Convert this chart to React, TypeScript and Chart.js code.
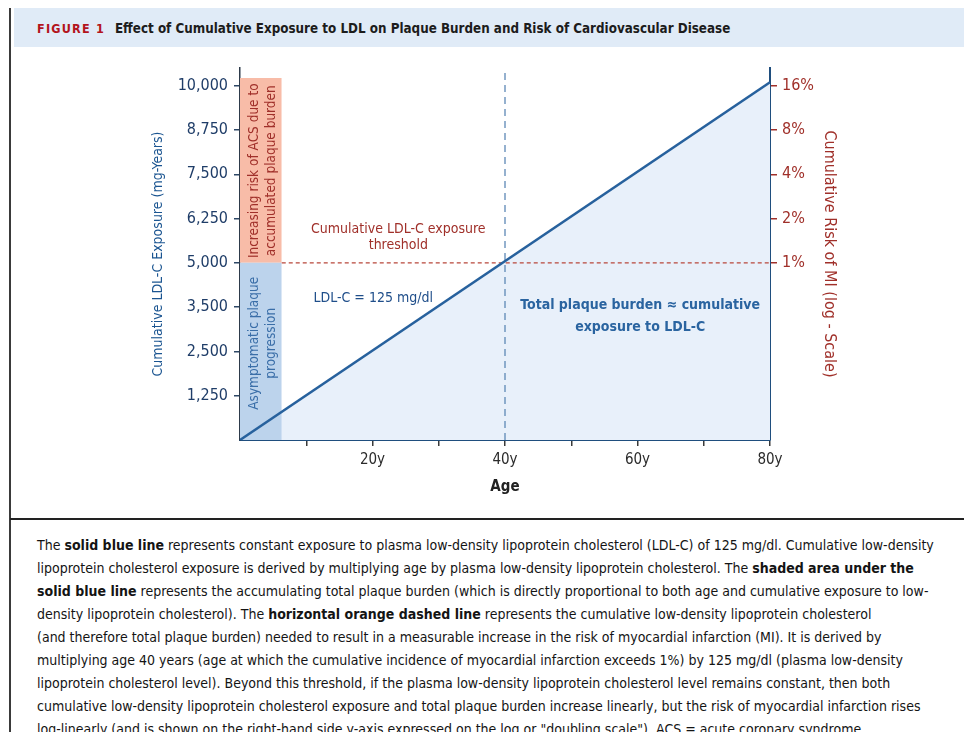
import React, { useEffect, useRef } from "react";
import { Chart, registerables } from "chart.js";

Chart.register(...registerables);

// ---------------- data ----------------
const ages = [0, 80];
const ldlExposure = [0, 10100];
const thresholdExposure = 5000;
const thresholdAge = 40;
const barAgeEnd = 6.3;
const barTopExposure = 10220;
const yMax = 10500;
const yTickValues = [1250, 2500, 3750, 5000, 6250, 7500, 8750, 10000];
const yTickLabels = ["1,250", "2,500", "3,500", "5,000", "6,250", "7,500", "8,750", "10,000"];
const xTickValues = [10, 20, 30, 40, 50, 60, 70, 80];
const xTickLabels = ["", "20y", "", "40y", "", "60y", "", "80y"];
const riskTicks = [1, 2, 4, 8, 16];
const riskTickLabels = ["1%", "2%", "4%", "8%", "16%"];
const exposurePerDoubling = 1250;

const captionLines: Array<Array<[string, boolean]>> = [
  [["The ", false], ["solid blue line", true], [" represents constant exposure to plasma low-density lipoprotein cholesterol (LDL-C) of 125 mg/dl. Cumulative low-density", false]],
  [["lipoprotein cholesterol exposure is derived by multiplying age by plasma low-density lipoprotein cholesterol. The ", false], ["shaded area under the", true]],
  [["solid blue line", true], [" represents the accumulating total plaque burden (which is directly proportional to both age and cumulative exposure to low-", false]],
  [["density lipoprotein cholesterol). The ", false], ["horizontal orange dashed line", true], [" represents the cumulative low-density lipoprotein cholesterol", false]],
  [["(and therefore total plaque burden) needed to result in a measurable increase in the risk of myocardial infarction (MI). It is derived by", false]],
  [["multiplying age 40 years (age at which the cumulative incidence of myocardial infarction exceeds 1%) by 125 mg/dl (plasma low-density", false]],
  [["lipoprotein cholesterol level). Beyond this threshold, if the plasma low-density lipoprotein cholesterol level remains constant, then both", false]],
  [["cumulative low-density lipoprotein cholesterol exposure and total plaque burden increase linearly, but the risk of myocardial infarction rises", false]],
  [["log-linearly (and is shown on the right-hand side y-axis expressed on the log or \"doubling scale\"). ACS = acute coronary syndrome.", false]],
];

const FONT = '"Liberation Sans Narrow", "DejaVu Sans Condensed", "Open Sans", sans-serif';
const NAVY = "#1f4e7e";
const LINE_BLUE = "#27619d";
const DARK_RED = "#a0302a";
const TEXT_BLUE = "#2a64a0";

const riskAt = (v: number) => Math.pow(2, (v - thresholdExposure) / exposurePerDoubling);

const annotationPlugin = {
  id: "annotations",
  afterDatasetsDraw(chart: any) {
    const { ctx, scales } = chart;
    const x = scales.x;
    const y = scales.y;
    ctx.save();
    ctx.textAlign = "center";
    ctx.textBaseline = "middle";

    ctx.fillStyle = DARK_RED;
    ctx.font = `14px ${FONT}`;
    ctx.fillText("Cumulative LDL-C exposure", x.getPixelForValue(23.9), y.getPixelForValue(5940));
    ctx.fillText("threshold", x.getPixelForValue(23.9), y.getPixelForValue(5490));

    ctx.fillStyle = "#1f4e8a";
    ctx.textAlign = "left";
    ctx.fillText("LDL-C = 125 mg/dl", x.getPixelForValue(11.1), y.getPixelForValue(3998));

    ctx.textAlign = "center";
    ctx.fillStyle = TEXT_BLUE;
    ctx.font = `bold 14px ${FONT}`;
    ctx.fillText("Total plaque burden \u2248 cumulative", x.getPixelForValue(60.4), y.getPixelForValue(3800));
    ctx.fillText("exposure to LDL-C", x.getPixelForValue(60.4), y.getPixelForValue(3181));

    const rotated = (lines: string[], ax: number[], vy: number, color: string) => {
      lines.forEach((t, i) => {
        ctx.save();
        ctx.translate(x.getPixelForValue(ax[i]), y.getPixelForValue(vy));
        ctx.rotate(-Math.PI / 2);
        ctx.fillStyle = color;
        ctx.font = `13.5px ${FONT}`;
        ctx.textAlign = "center";
        ctx.textBaseline = "middle";
        ctx.fillText(t, 0, 0);
        ctx.restore();
      });
    };
    rotated(["Increasing risk of ACS due to", "accumulated plaque burden"], [2.2, 4.7], 7600, DARK_RED);
    rotated(["Asymptomatic plaque", "progression"], [2.2, 4.7], 2730, "#3a6ea8");
    ctx.restore();
  },
};

function ChartView() {
  const ref = useRef<HTMLCanvasElement | null>(null);
  useEffect(() => {
    if (!ref.current) return;
    const pts = (xs: number[], ys: number[]) => xs.map((a, i) => ({ x: a, y: ys[i] }));
    const chart = new Chart(ref.current, {
      type: "line",
      data: {
        datasets: [
          {
            data: pts(ages, ldlExposure),
            borderColor: "rgba(0,0,0,0)",
            borderWidth: 0,
            backgroundColor: "#e8f0fa",
            fill: "origin",
            pointRadius: 0,
            order: 5,
          },
          {
            data: pts([0, barAgeEnd], [thresholdExposure, thresholdExposure]),
            borderColor: "rgba(0,0,0,0)",
            borderWidth: 0,
            backgroundColor: "#bcd3ec",
            fill: "origin",
            pointRadius: 0,
            order: 4,
          },
          {
            data: pts([0, barAgeEnd], [barTopExposure, barTopExposure]),
            borderColor: "rgba(0,0,0,0)",
            borderWidth: 0,
            backgroundColor: "#f8bca8",
            fill: { value: thresholdExposure },
            pointRadius: 0,
            order: 4,
          },
          {
            data: pts([barAgeEnd, 80], [thresholdExposure, thresholdExposure]),
            borderColor: "#b8473b",
            borderWidth: 1.3,
            borderDash: [4, 3],
            fill: false,
            pointRadius: 0,
            order: 2,
          },
          {
            data: pts([thresholdAge, thresholdAge], [0, yMax]),
            borderColor: "#5d88b6",
            borderWidth: 1.3,
            borderDash: [7, 5],
            fill: false,
            pointRadius: 0,
            order: 2,
          },
          {
            data: pts(ages, ldlExposure),
            borderColor: LINE_BLUE,
            borderWidth: 2.5,
            fill: false,
            pointRadius: 0,
            order: 1,
          },
        ],
      },
      options: {
        animation: false,
        responsive: false,
        events: [],
        layout: { padding: { left: 150, right: 125, top: 18, bottom: 14 } },
        plugins: { legend: { display: false }, tooltip: { enabled: false } },
        scales: {
          x: {
            type: "linear",
            min: 0,
            max: 80,
            afterBuildTicks: (s: any) => {
              s.ticks = xTickValues.map((v) => ({ value: v }));
            },
            afterFit: (s: any) => {
              s.height = 56;
            },
            ticks: {
              autoSkip: false,
              maxRotation: 0,
              padding: 5,
              color: "#2b2b2b",
              font: { family: FONT, size: 15 },
              callback: (_v: any, i: number) => xTickLabels[i],
            },
            grid: { drawOnChartArea: false, drawTicks: true, tickLength: 6, color: "#3a3a3a", lineWidth: 1.5 },
            border: { display: true, color: NAVY, width: 2 },
            title: {
              display: true,
              text: "Age",
              color: "#222",
              font: { family: FONT, size: 15, weight: "bold" },
              padding: { top: 0, bottom: 0 },
            },
          },
          y: {
            type: "linear",
            position: "left",
            min: 0,
            max: yMax,
            afterBuildTicks: (s: any) => {
              s.ticks = yTickValues.map((v) => ({ value: v }));
            },
            afterFit: (s: any) => {
              s.width = 90;
            },
            ticks: {
              padding: 6,
              color: "#1f3d68",
              font: { family: FONT, size: 16 },
              callback: (_v: any, i: number) => yTickLabels[i],
            },
            grid: { drawOnChartArea: false, drawTicks: true, tickLength: 6, color: "#2d4766", lineWidth: 1.5 },
            border: { display: true, color: "#2d3a4a", width: 1.5 },
            title: {
              display: true,
              text: "Cumulative LDL-C Exposure (mg-Years)",
              color: "#1b5591",
              font: { family: FONT, size: 14 },
              padding: { top: 0, bottom: 0 },
            },
          },
          risk: {
            type: "logarithmic",
            position: "right",
            min: riskAt(0),
            max: riskAt(yMax),
            afterBuildTicks: (s: any) => {
              s.ticks = riskTicks.map((v) => ({ value: v }));
            },
            afterFit: (s: any) => {
              s.width = 69;
            },
            ticks: {
              padding: 5,
              color: DARK_RED,
              font: { family: FONT, size: 16 },
              callback: (_v: any, i: number) => riskTickLabels[i],
            },
            grid: { drawOnChartArea: false, drawTicks: true, tickLength: 7, color: DARK_RED, lineWidth: 1.5 },
            border: { display: true, color: NAVY, width: 2 },
            title: {
              display: true,
              text: "Cumulative Risk of MI (log - Scale)",
              color: DARK_RED,
              font: { family: FONT, size: 16 },
              padding: { top: 0, bottom: 0 },
            },
          },
        },
      } as any,
      plugins: [annotationPlugin],
    });
    return () => chart.destroy();
  }, []);
  return (
    <canvas
      ref={ref}
      width={964}
      height={460}
      style={{ position: "absolute", left: 0, top: 50, width: 964, height: 460 }}
    />
  );
}

export default function App() {
  return (
    <div
      style={{
        position: "absolute",
        left: 0,
        top: 0,
        width: 964,
        height: 732,
        overflow: "hidden",
        background: "#fff",
        fontFamily: FONT,
      }}
    >
      <div style={{ position: "absolute", left: 9, top: 8, width: 2, height: 724, background: "#3a3a3a" }} />
      <div style={{ position: "absolute", left: 14, top: 8, width: 950, height: 39, background: "#e0ebf7" }} />
      <div
        style={{
          position: "absolute",
          left: 37,
          top: 18,
          height: 20,
          lineHeight: "20px",
          whiteSpace: "nowrap",
          fontWeight: "bold",
        }}
      >
        <span style={{ color: "#b3141c", fontSize: 12.5, letterSpacing: 1.2 }}>FIGURE 1</span>
        <span style={{ color: "#1c1c1c", fontSize: 13.3, marginLeft: 10 }}>
          Effect of Cumulative Exposure to LDL on Plaque Burden and Risk of Cardiovascular Disease
        </span>
      </div>
      <ChartView />
      <div style={{ position: "absolute", left: 10, top: 518, width: 954, height: 2, background: "#222" }} />
      <div style={{ position: "absolute", left: 37, top: 534, color: "#141414", fontSize: 14, lineHeight: "23px" }}>
        {captionLines.map((line, i) => (
          <div key={i} style={{ whiteSpace: "nowrap" }}>
            {line.map(([t, b], j) => (
              <span key={j} style={{ fontWeight: b ? "bold" : "normal" }}>
                {t}
              </span>
            ))}
          </div>
        ))}
      </div>
    </div>
  );
}
